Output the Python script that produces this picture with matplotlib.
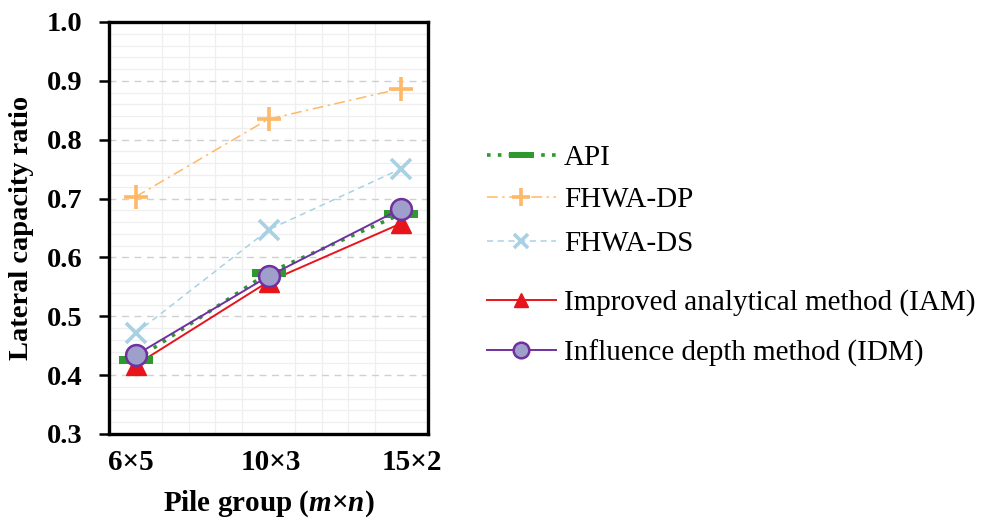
import matplotlib
matplotlib.use("Agg")
import matplotlib.pyplot as plt
import matplotlib.transforms as mtransforms
from matplotlib.ticker import MultipleLocator, FormatStrFormatter

plt.rcParams['font.family'] = ['Liberation Serif', 'DejaVu Serif']
plt.rcParams['mathtext.fontset'] = 'custom'
plt.rcParams['mathtext.rm'] = 'Liberation Serif'
plt.rcParams['mathtext.bf'] = 'Liberation Serif:bold'
plt.rcParams['mathtext.bfit'] = 'Liberation Serif:bold:italic'
plt.rcParams['mathtext.it'] = 'Liberation Serif:italic'

groups = ['6×5', '10×3', '15×2']
api = [0.426, 0.574, 0.674]
fhwa_dp = [0.703, 0.835, 0.887]
fhwa_ds = [0.471, 0.647, 0.751]
iam = [0.417, 0.559, 0.658]
idm = [0.434, 0.568, 0.683]

fig = plt.figure(figsize=(9.83, 5.20), dpi=100)
ax = fig.add_axes([0.1109, 0.1654, 0.3245, 0.7923])

x = list(range(len(groups)))

wide_rect = [(-2, -0.5), (2, -0.5), (2, 0.5), (-2, 0.5), (-2, -0.5)]

ax.plot(x, fhwa_dp, color='#ffb865', linestyle=(0, (7, 3, 1.5, 3)), lw=1.1,
        marker='+', ms=17, mew=2.6, label='FHWA-DP', zorder=3)
ax.plot(x, fhwa_ds, color='#a9d1e4', linestyle=(0, (4, 3)), lw=1.1,
        marker='x', ms=14, mew=2.6, label='FHWA-DS', zorder=3)
ax.plot(x, iam, color='#e8141c', linestyle='-', lw=1.4,
        marker='^', ms=14, mec='#e8141c', label='Improved analytical method (IAM)', zorder=4)
ax.plot(x, api, color='#2e9a2e', linestyle=(0, (1, 2)), lw=2.6,
        marker=wide_rect, ms=24, mec='#2e9a2e', mew=0, label='API', zorder=5)
ax.plot(x, idm, color='#7030a0', linestyle='-', lw=1.4,
        marker='o', ms=15, mfc='#9f9fcc', mec='#7030a0', mew=1.8,
        label='Influence depth method (IDM)', zorder=6)

ax.set_xlim(-0.2, 2.2)
ax.set_ylim(0.3, 1.0)
ax.set_xticks(x)
ax.set_xticklabels(groups)
ax.yaxis.set_major_locator(MultipleLocator(0.1))
ax.yaxis.set_major_formatter(FormatStrFormatter('%.1f'))
ax.yaxis.set_minor_locator(MultipleLocator(0.02))
ax.xaxis.set_minor_locator(MultipleLocator(0.2))

ax.grid(True, which='major', axis='y', color='#d0d0d0', linestyle=(0, (5, 4)), lw=1.0, zorder=1)
ax.grid(True, which='minor', axis='both', color='#efefef', linestyle='-', lw=0.9, zorder=0)
ax.set_axisbelow(True)

for s in ax.spines.values():
    s.set_linewidth(2.4)
    s.set_color('black')

ax.tick_params(axis='y', which='major', direction='out', length=7, width=1.8,
               labelsize=20.5, pad=12)
ax.tick_params(axis='y', which='minor', length=0)
ax.tick_params(axis='x', which='both', length=0, labelsize=21, pad=11)
for lbl in ax.get_xticklabels() + ax.get_yticklabels():
    lbl.set_fontweight('bold')

# Nudge the category labels slightly apart
for lbl, dx in zip(ax.get_xticklabels(), [-5, 2, 10]):
    lbl.set_transform(lbl.get_transform() +
                      mtransforms.ScaledTranslation(dx / 100, 0, fig.dpi_scale_trans))

ax.set_ylabel('Lateral capacity ratio', fontsize=20.5, fontweight='bold', labelpad=9)
ax.set_xlabel(r'Pile group ($\mathbfit{m}$×$\mathbfit{n}$)', fontsize=21,
              fontweight='bold', labelpad=9)

# One legend entry per row, so each row can sit at its own height
handles, labels = ax.get_legend_handles_labels()
hmap = dict(zip(labels, handles))
order = ['API', 'FHWA-DP', 'FHWA-DS', 'Improved analytical method (IAM)',
         'Influence depth method (IDM)']
row_y = [158, 200, 244, 303, 353]
for name, ypx in zip(order, row_y):
    fig.legend([hmap[name]], [name], loc='center left',
               bbox_to_anchor=(487 / 983, 1 - ypx / 520), frameon=False,
               fontsize=21, handlelength=2.35, handletextpad=0.28,
               borderaxespad=0, borderpad=0, markerscale=0.75)

fig.savefig('out.png', dpi=100, facecolor='white')
